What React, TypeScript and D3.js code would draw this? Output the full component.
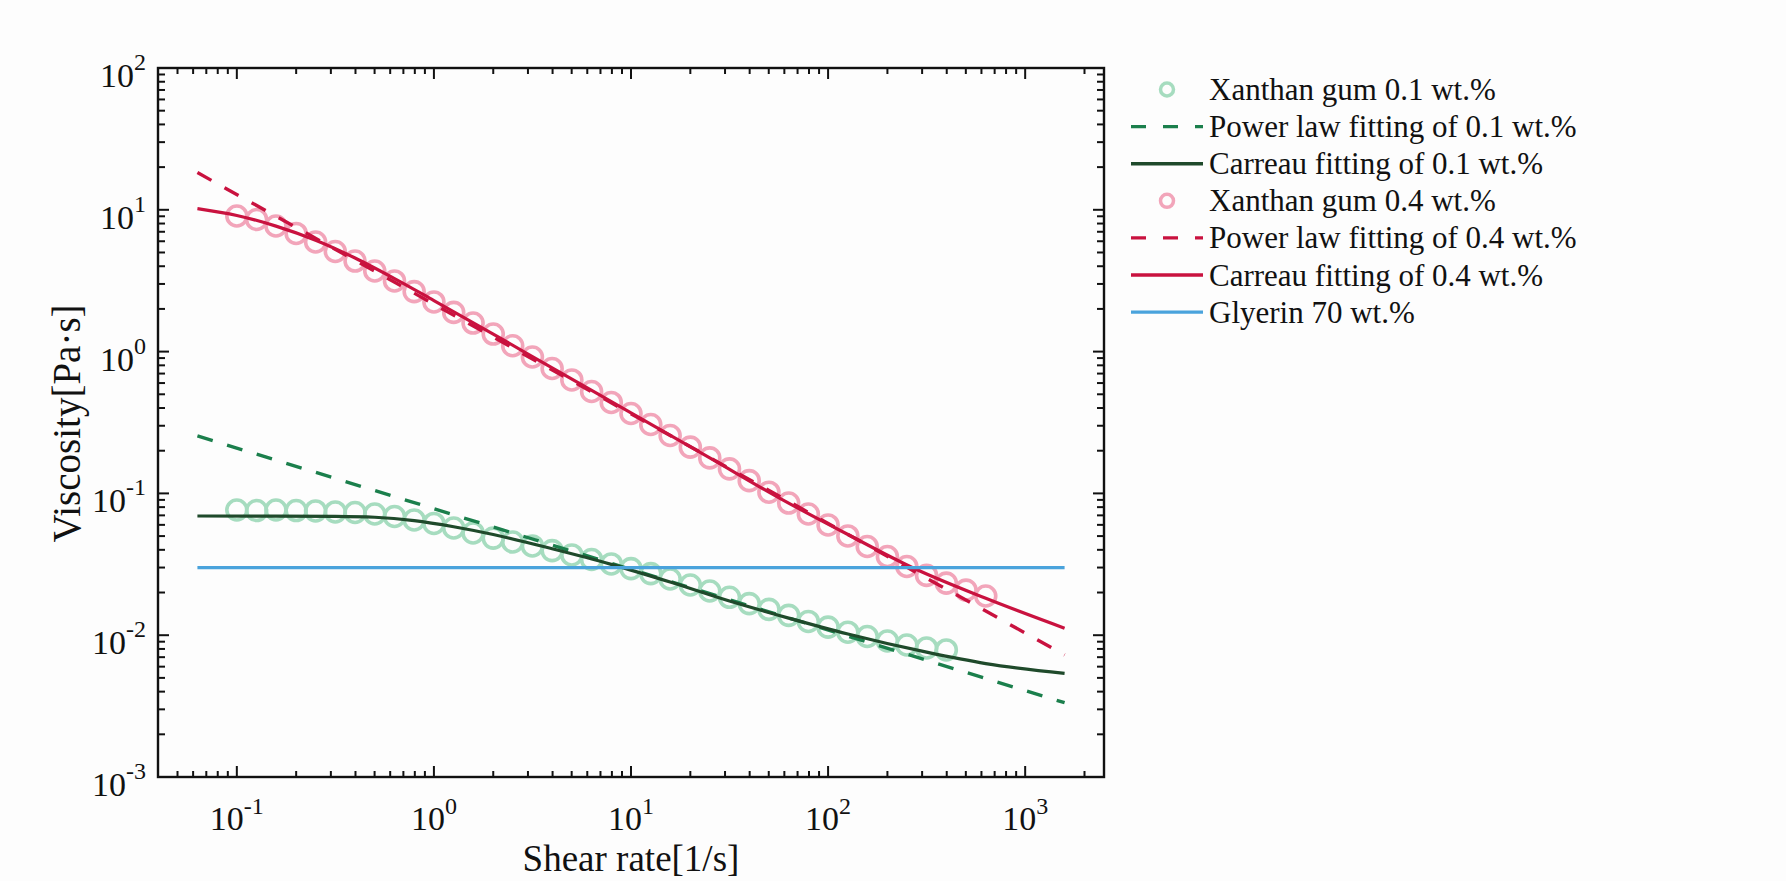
import React, { useEffect, useRef } from "react";
import * as d3 from "d3";

// shear rate of the measured points [1/s]
const shearRate = [
  0.1, 0.126, 0.158, 0.2, 0.251, 0.316, 0.398, 0.501, 0.631, 0.794,
  1, 1.26, 1.58, 2, 2.51, 3.16, 3.98, 5.01, 6.31, 7.94,
  10, 12.6, 15.8, 20, 25.1, 31.6, 39.8, 50.1, 63.1, 79.4,
  100, 126, 158, 200, 251, 316, 398, 501, 631,
];

// measured viscosity [Pa·s]
const xanthan01 = [
  0.0764, 0.0757, 0.0764, 0.0757, 0.0752, 0.074, 0.0733, 0.0716, 0.0687, 0.0649,
  0.0614, 0.057, 0.0526, 0.0484, 0.0454, 0.0426, 0.0395, 0.0368, 0.0342, 0.0318,
  0.0295, 0.0272, 0.0249, 0.0226, 0.0205, 0.0185, 0.0167, 0.0152, 0.0138, 0.0125,
  0.0114, 0.0105, 0.00979, 0.0091, 0.00853, 0.00813, 0.00787,
];
const xanthan04 = [
  9.04, 8.54, 7.69, 6.81, 5.93, 5.08, 4.35, 3.7, 3.15, 2.65,
  2.24, 1.89, 1.59, 1.33, 1.1, 0.916, 0.76, 0.631, 0.523, 0.438,
  0.366, 0.306, 0.256, 0.212, 0.178, 0.149, 0.123, 0.102, 0.0855, 0.0716,
  0.0599, 0.0501, 0.0422, 0.0359, 0.0305, 0.0264, 0.0233, 0.0208, 0.0189,
];

// fitted curves
const fitRange = [0.0631, 1585];
const power01 = [0.254, 0.00334];
const power04 = [18.3, 0.00726];
const glycerin70 = [0.03, 0.03];

const carreau01X = [0.0631, 0.158, 0.316, 0.501, 0.794, 1.26, 2, 3.98, 7.94, 15.8, 31.6, 63.1, 126, 316, 631, 1585];
const carreau01 = [0.0693, 0.0692, 0.0689, 0.0679, 0.0643, 0.0582, 0.0513, 0.0407, 0.0316, 0.0237, 0.0174, 0.0132, 0.0102, 0.00759, 0.00631, 0.00538];
const carreau04X = [0.0631, 0.1, 0.158, 0.251, 0.398, 0.631, 1, 2, 3.98, 10, 25.1, 57, 126, 269, 631, 1585];
const carreau04 = [10.2, 9.12, 7.67, 6.1, 4.57, 3.27, 2.29, 1.33, 0.767, 0.37, 0.178, 0.0923, 0.0513, 0.0299, 0.0182, 0.0112];

const xTickExps = [-1, 0, 1, 2, 3];
const yTickExps = [-3, -2, -1, 0, 1, 2];

const legendItems = [
  { label: "Xanthan gum 0.1 wt.%", kind: "marker", color: "#a6dcbf" },
  { label: "Power law fitting of 0.1 wt.%", kind: "dash", color: "#1b7f4c" },
  { label: "Carreau fitting of 0.1 wt.%", kind: "line", color: "#1f4a2b" },
  { label: "Xanthan gum 0.4 wt.%", kind: "marker", color: "#f2a5ba" },
  { label: "Power law fitting of 0.4 wt.%", kind: "dash", color: "#c9123f" },
  { label: "Carreau fitting of 0.4 wt.%", kind: "line", color: "#c9123f" },
  { label: "Glyerin 70 wt.%", kind: "line", color: "#4aa3dc" },
];

const FONT = "'Liberation Serif', 'Times New Roman', serif";

export default function App() {
  const ref = useRef<HTMLDivElement>(null);

  useEffect(() => {
    const container = d3.select(ref.current);
    container.selectAll("*").remove();
    const width = 1786;
    const height = 881;
    const margin = { top: 68, right: 682, bottom: 104, left: 158 };

    const svg = container.append("svg")
      .attr("width", width).attr("height", height)
      .style("position", "absolute").style("left", 0).style("top", 0)
      .style("background", "#fdfdfd")
      .attr("font-family", FONT);

    const innerW = width - margin.left - margin.right;
    const innerH = height - margin.top - margin.bottom;

    const x = d3.scaleLog().domain([Math.pow(10, -1.4), Math.pow(10, 3.4)]).range([margin.left, margin.left + innerW]);
    const y = d3.scaleLog().domain([1e-3, 1e2]).range([margin.top + innerH, margin.top]);

    const line = d3.line<[number, number]>()
      .x((d) => x(d[0])).y((d) => y(d[1]))
      .curve(d3.curveMonotoneX);

    // data markers
    const drawMarkers = (vals: number[], color: string) => {
      svg.append("g").selectAll("circle")
        .data(vals.map((v, i) => [shearRate[i], v]))
        .join("circle")
        .attr("cx", (d) => x(d[0])).attr("cy", (d) => y(d[1]))
        .attr("r", 10)
        .attr("fill", "none").attr("stroke", color).attr("stroke-width", 3.6);
    };
    const drawLine = (xs: number[], ys: number[], color: string, dashed: boolean) => {
      svg.append("path")
        .datum(xs.map((v, i) => [v, ys[i]] as [number, number]))
        .attr("d", line)
        .attr("fill", "none").attr("stroke", color)
        .attr("stroke-width", dashed ? 3.4 : 3.2)
        .attr("stroke-dasharray", dashed ? "16 15" : null);
    };

    drawMarkers(xanthan01, "#a6dcbf");
    drawLine(fitRange, power01, "#1b7f4c", true);
    drawLine(carreau01X, carreau01, "#1f4a2b", false);
    drawMarkers(xanthan04, "#f2a5ba");
    drawLine(fitRange, power04, "#c9123f", true);
    drawLine(carreau04X, carreau04, "#c9123f", false);
    drawLine(fitRange, glycerin70, "#4aa3dc", false);

    // box and inward ticks
    const x0 = margin.left, x1 = margin.left + innerW;
    const y0 = margin.top + innerH, y1 = margin.top;
    const ticks = svg.append("g").attr("stroke", "#111").attr("stroke-width", 2);
    const isMajor = (v: number) => Math.abs(Math.log10(v) - Math.round(Math.log10(v))) < 1e-6;

    x.ticks().filter((v) => x(v) > x0 + 3 && x(v) < x1 - 3).forEach((v) => {
      const len = isMajor(v) ? 11 : 6;
      ticks.append("line").attr("x1", x(v)).attr("x2", x(v)).attr("y1", y0).attr("y2", y0 - len);
      ticks.append("line").attr("x1", x(v)).attr("x2", x(v)).attr("y1", y1).attr("y2", y1 + len);
    });
    y.ticks().filter((v) => y(v) > y1 + 1 && y(v) < y0 - 1).forEach((v) => {
      const len = isMajor(v) ? 11 : 7;
      ticks.append("line").attr("y1", y(v)).attr("y2", y(v)).attr("x1", x0).attr("x2", x0 + len);
      ticks.append("line").attr("y1", y(v)).attr("y2", y(v)).attr("x1", x1).attr("x2", x1 - len);
    });
    svg.append("rect")
      .attr("x", x0).attr("y", y1).attr("width", innerW).attr("height", innerH)
      .attr("fill", "none").attr("stroke", "#111").attr("stroke-width", 2.4);

    // tick labels
    xTickExps.forEach((e) => {
      const t = svg.append("text")
        .attr("x", x(Math.pow(10, e))).attr("y", 830)
        .attr("text-anchor", "middle").attr("font-size", 34).attr("fill", "#111");
      t.append("tspan").text("10");
      t.append("tspan").attr("dy", -16).attr("font-size", 24).text(String(e));
    });
    yTickExps.forEach((e) => {
      const t = svg.append("text")
        .attr("x", 146).attr("y", y(Math.pow(10, e)) + 19)
        .attr("text-anchor", "end").attr("font-size", 34).attr("fill", "#111");
      t.append("tspan").text("10");
      t.append("tspan").attr("dy", -17).attr("font-size", 24).text(String(e));
    });

    // axis titles
    svg.append("text")
      .attr("x", (x0 + x1) / 2).attr("y", 871)
      .attr("text-anchor", "middle").attr("font-size", 37).attr("fill", "#111")
      .text("Shear rate[1/s]");
    svg.append("text")
      .attr("transform", `translate(80, ${(y0 + y1) / 2 + 1}) rotate(-90)`)
      .attr("text-anchor", "middle").attr("font-size", 39).attr("fill", "#111")
      .text("Viscosity[Pa·s]");

    // legend
    const lg = svg.append("g");
    legendItems.forEach((item, i) => {
      const cy = 89.5 + i * 37.1;
      if (item.kind === "marker") {
        lg.append("circle").attr("cx", 1167).attr("cy", cy).attr("r", 6.5)
          .attr("fill", "none").attr("stroke", item.color).attr("stroke-width", 3.5);
      } else {
        lg.append("line").attr("x1", 1131).attr("x2", 1203).attr("y1", cy).attr("y2", cy)
          .attr("stroke", item.color).attr("stroke-width", 3.4)
          .attr("stroke-dasharray", item.kind === "dash" ? "15 17" : null);
      }
      lg.append("text").attr("x", 1209).attr("y", cy + 10.5)
        .attr("font-size", 31).attr("fill", "#111").text(item.label);
    });
  }, []);

  return <div ref={ref}></div>;
}
